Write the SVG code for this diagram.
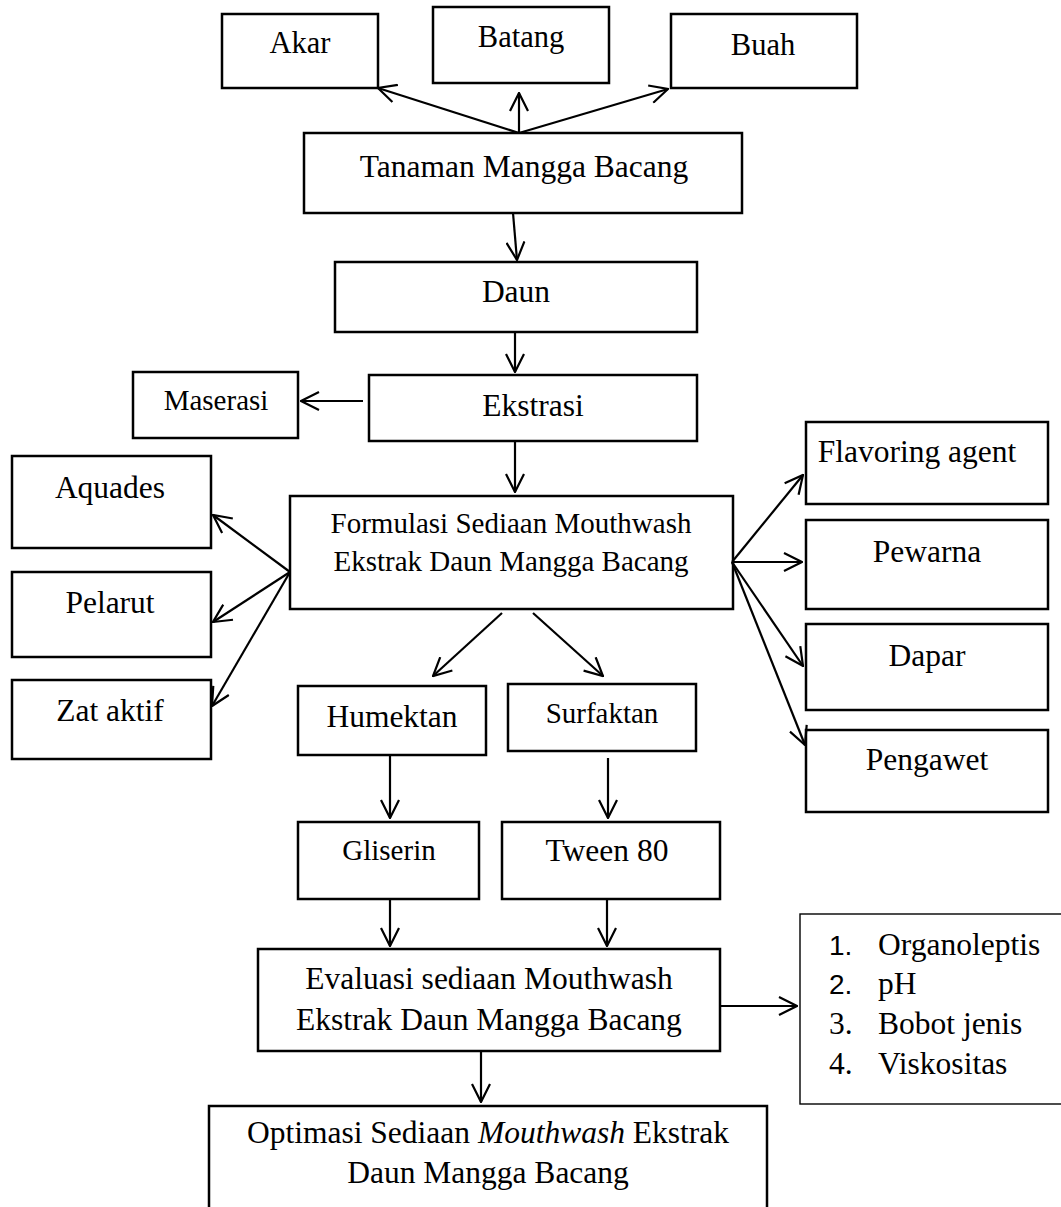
<svg xmlns="http://www.w3.org/2000/svg" width="1061" height="1207" viewBox="0 0 1061 1207">
<style>
.box{fill:#fff;stroke:#000;stroke-width:2.5}
.thin{fill:#fff;stroke:#000;stroke-width:1.4}
text{font-family:"Liberation Serif","Times New Roman",serif;fill:#000;text-anchor:middle;font-size:31.5px}
.s30{font-size:30.5px}
.s29{font-size:29px}
.left{text-anchor:start}
.num{font-family:"Liberation Sans",Arial,sans-serif;font-size:28px}
.conn line{stroke:#000;stroke-width:2.2;marker-end:url(#arr)}
</style>
<defs>
<marker id="arr" viewBox="0 0 20 20" refX="19" refY="10" markerWidth="20" markerHeight="20" markerUnits="userSpaceOnUse" orient="auto">
<path d="M1,1 L19,10 L1,19" fill="none" stroke="#000" stroke-width="2.2"/>
</marker>
</defs>
<rect width="1061" height="1207" fill="#fff"/>

<g id="akar"><rect class="box" x="222" y="14" width="156" height="74"/><text class="s30" x="300" y="53">Akar</text></g>
<g id="batang"><rect class="box" x="433" y="7" width="176" height="76"/><text class="s30" x="521" y="47">Batang</text></g>
<g id="buah"><rect class="box" x="671" y="14" width="186" height="74"/><text class="s30" x="763" y="55">Buah</text></g>
<g id="tanaman"><rect class="box" x="304" y="133" width="438" height="80"/><text x="524" y="177">Tanaman Mangga Bacang</text></g>
<g id="daun"><rect class="box" x="335" y="262" width="362" height="70"/><text x="516" y="302">Daun</text></g>
<g id="maserasi"><rect class="box" x="133" y="372" width="165" height="66"/><text class="s29" x="216" y="410">Maserasi</text></g>
<g id="ekstrasi"><rect class="box" x="369" y="375" width="328" height="66"/><text x="533" y="416">Ekstrasi</text></g>
<g id="formulasi"><rect class="box" x="290" y="496" width="443" height="113"/><text class="s29" x="511" y="533">Formulasi Sediaan Mouthwash</text><text class="s29" x="511" y="571">Ekstrak Daun Mangga Bacang</text></g>
<g id="aquades"><rect class="box" x="12" y="456" width="199" height="92"/><text x="110" y="498">Aquades</text></g>
<g id="pelarut"><rect class="box" x="12" y="572" width="199" height="85"/><text x="110" y="613">Pelarut</text></g>
<g id="zataktif"><rect class="box" x="12" y="680" width="199" height="79"/><text x="110" y="721">Zat aktif</text></g>
<g id="flavoring"><rect class="box" x="806" y="422" width="242" height="82"/><text x="917" y="462">Flavoring agent</text></g>
<g id="pewarna"><rect class="box" x="806" y="520" width="242" height="89"/><text x="927" y="562">Pewarna</text></g>
<g id="dapar"><rect class="box" x="806" y="624" width="242" height="86"/><text x="927" y="666">Dapar</text></g>
<g id="pengawet"><rect class="box" x="806" y="730" width="242" height="82"/><text x="927" y="770">Pengawet</text></g>
<g id="humektan"><rect class="box" x="298" y="686" width="188" height="69"/><text x="392" y="727">Humektan</text></g>
<g id="surfaktan"><rect class="box" x="508" y="684" width="188" height="67"/><text class="s29" x="602" y="723">Surfaktan</text></g>
<g id="gliserin"><rect class="box" x="298" y="822" width="181" height="77"/><text class="s29" x="389" y="860">Gliserin</text></g>
<g id="tween"><rect class="box" x="502" y="822" width="218" height="77"/><text x="607" y="861">Tween 80</text></g>
<g id="evaluasi"><rect class="box" x="258" y="949" width="462" height="102"/><text x="489" y="989">Evaluasi sediaan Mouthwash</text><text x="489" y="1030">Ekstrak Daun Mangga Bacang</text></g>
<g id="hasil"><rect class="thin" x="800" y="914" width="275" height="190"/>
<text class="num left" x="829" y="955">1.</text><text class="left" x="878" y="955">Organoleptis</text>
<text class="num left" x="829" y="994">2.</text><text class="left" x="878" y="994">pH</text>
<text class="left" x="829" y="1034">3.</text><text class="left" x="878" y="1034">Bobot jenis</text>
<text class="left" x="829" y="1074">4.</text><text class="left" x="878" y="1074">Viskositas</text>
</g>
<g id="optimasi"><rect class="box" x="209" y="1106" width="558" height="115"/><text x="488" y="1143">Optimasi Sediaan <tspan font-style="italic">Mouthwash</tspan> Ekstrak</text><text x="488" y="1183">Daun Mangga Bacang</text></g>

<g class="conn">
<line x1="519" y1="133" x2="378" y2="88"/>
<line x1="519" y1="133" x2="519" y2="93"/>
<line x1="519" y1="133" x2="668" y2="89"/>
<line x1="513" y1="213" x2="517" y2="260"/>
<line x1="515" y1="332" x2="515" y2="372"/>
<line x1="363" y1="401" x2="301" y2="401"/>
<line x1="515" y1="441" x2="515" y2="492"/>
<line x1="290" y1="572" x2="213" y2="515"/>
<line x1="290" y1="572" x2="213" y2="622"/>
<line x1="290" y1="572" x2="212" y2="706"/>
<line x1="732" y1="562" x2="803" y2="475"/>
<line x1="732" y1="562" x2="802" y2="562"/>
<line x1="732" y1="562" x2="803" y2="666"/>
<line x1="732" y1="562" x2="805" y2="745"/>
<line x1="502" y1="613" x2="433" y2="676"/>
<line x1="533" y1="613" x2="603" y2="676"/>
<line x1="390" y1="755" x2="390" y2="818"/>
<line x1="608" y1="758" x2="608" y2="818"/>
<line x1="390" y1="899" x2="390" y2="946"/>
<line x1="607" y1="899" x2="607" y2="946"/>
<line x1="720" y1="1006" x2="797" y2="1006"/>
<line x1="481" y1="1051" x2="481" y2="1102"/>
</g>
</svg>
